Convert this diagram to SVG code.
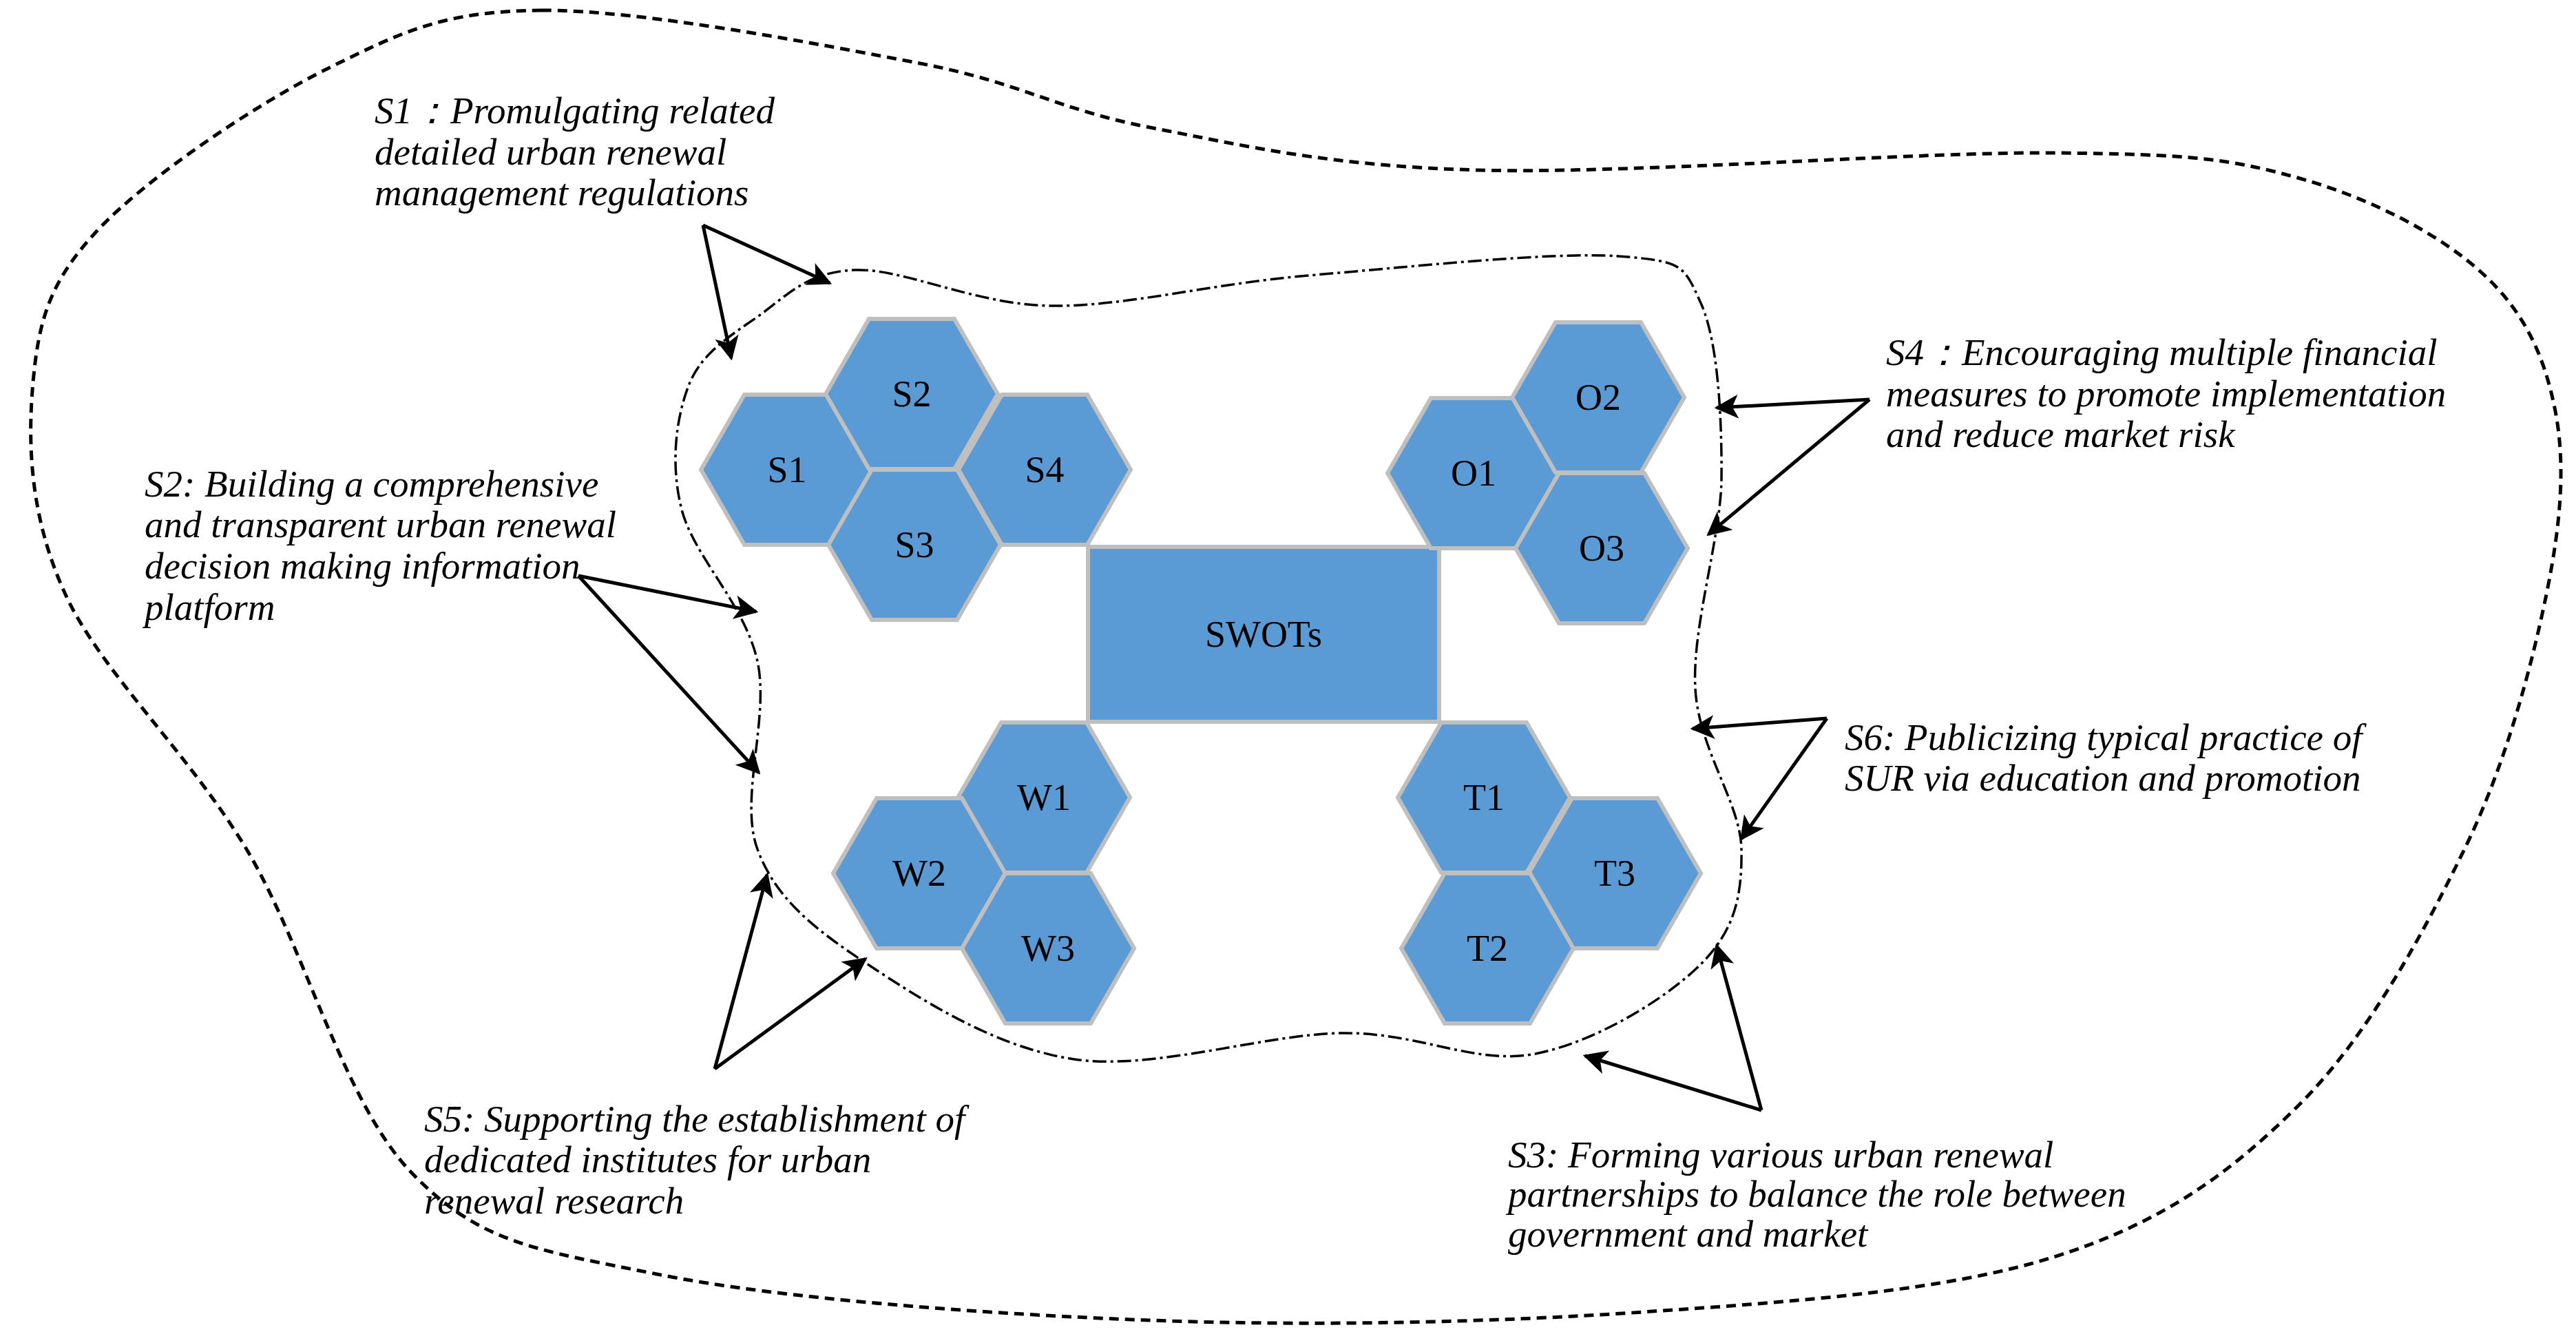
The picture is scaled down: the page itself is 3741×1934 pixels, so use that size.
<svg xmlns="http://www.w3.org/2000/svg" width="3741" height="1934" viewBox="0 0 3741 1934">
<style>
.hex{fill:#5B9BD5;stroke:#BFBFBF;stroke-width:6}
.lbl{font-family:"Liberation Serif",serif;font-size:54px;fill:#000;text-anchor:middle;dominant-baseline:central}
.note{font-family:"Liberation Serif",serif;font-style:italic;font-size:55px;fill:#000}
.arr{stroke:#000;stroke-width:5;fill:none;marker-end:url(#ah)}
</style>
<defs>
<marker id="ah" viewBox="0 0 10 10" refX="9" refY="5" markerWidth="7" markerHeight="7" orient="auto" markerUnits="strokeWidth"><path d="M0,0 L10,5 L0,10 L2.5,5 Z" fill="#000"/></marker>
<polygon id="hx" points="-125,0 -62,-109 62,-109 125,0 62,109 -62,109"/>
</defs>
<rect width="3741" height="1934" fill="#fff"/>
<g id="outer-boundary">
<path d="M787,15 C930,14 1189,64 1336,92 C1483,120 1535,159 1670,185 C1805,211 1928,241 2147,247 C2366,253 2784,220 2983,222 C3182,224 3237,230 3340,259 C3443,288 3541,339 3603,395 C3665,451 3694,514 3710,592 C3726,670 3720,756 3698,863 C3676,970 3639,1110 3579,1233 C3519,1356 3439,1504 3340,1603 C3241,1702 3142,1775 2983,1825 C2824,1875 2605,1890 2386,1905 C2167,1920 1909,1926 1670,1917 C1431,1908 1133,1886 954,1850 C775,1814 696,1805 597,1702 C498,1599 442,1373 358,1233 C274,1093 147,976 95,863 C43,750 40,643 48,555 C56,467 71,409 143,333 C215,257 370,152 477,99 C584,46 644,16 787,15 Z" fill="none" stroke="#000" stroke-width="5" stroke-dasharray="14,9"/>
</g>
<g id="inner-boundary">
<path d="M1241,392 C1312,389 1417,443 1527,444 C1637,445 1757,412 1900,400 C2043,388 2255,365 2350,372 C2445,379 2445,385 2470,440 C2495,495 2501,607 2500,700 C2497,789 2457,911 2462,1000 C2467,1089 2528,1166 2529,1233 C2530,1300 2520,1350 2470,1400 C2420,1450 2317,1513 2230,1530 C2143,1547 2062,1499 1950,1500 C1838,1501 1675,1555 1560,1538 C1445,1521 1337,1451 1260,1400 C1183,1349 1127,1306 1100,1233 C1073,1160 1118,1042 1100,960 C1082,878 1007,807 990,740 C973,673 982,607 1000,560 C1018,513 1060,488 1100,460 C1140,432 1170,395 1241,392 Z" fill="none" stroke="#000" stroke-width="3.5" stroke-dasharray="20,6,4,6"/>
</g>
<g id="SWOTs"><rect x="1580" y="794" width="510" height="254" fill="#5B9BD5" stroke="#BFBFBF" stroke-width="6"/><text class="lbl" x="1835" y="921">SWOTs</text></g>
<g id="S1"><use href="#hx" class="hex" x="1143" y="682"/><text class="lbl" x="1143" y="682">S1</text></g>
<g id="S2"><use href="#hx" class="hex" x="1324" y="572"/><text class="lbl" x="1324" y="572">S2</text></g>
<g id="S4"><use href="#hx" class="hex" x="1517" y="682"/><text class="lbl" x="1517" y="682">S4</text></g>
<g id="S3"><use href="#hx" class="hex" x="1328" y="791"/><text class="lbl" x="1328" y="791">S3</text></g>
<g id="O1"><use href="#hx" class="hex" x="2140" y="687"/><text class="lbl" x="2140" y="687">O1</text></g>
<g id="O2"><use href="#hx" class="hex" x="2321" y="577"/><text class="lbl" x="2321" y="577">O2</text></g>
<g id="O3"><use href="#hx" class="hex" x="2326" y="796"/><text class="lbl" x="2326" y="796">O3</text></g>
<g id="W1"><use href="#hx" class="hex" x="1516" y="1158"/><text class="lbl" x="1516" y="1158">W1</text></g>
<g id="W2"><use href="#hx" class="hex" x="1335" y="1268"/><text class="lbl" x="1335" y="1268">W2</text></g>
<g id="W3"><use href="#hx" class="hex" x="1522" y="1377"/><text class="lbl" x="1522" y="1377">W3</text></g>
<g id="T1"><use href="#hx" class="hex" x="2155" y="1158"/><text class="lbl" x="2155" y="1158">T1</text></g>
<g id="T3"><use href="#hx" class="hex" x="2345" y="1268"/><text class="lbl" x="2345" y="1268">T3</text></g>
<g id="T2"><use href="#hx" class="hex" x="2160" y="1377"/><text class="lbl" x="2160" y="1377">T2</text></g>
<g id="connectors">
<line class="arr" x1="1021" y1="327" x2="1205" y2="411"/>
<line class="arr" x1="1021" y1="327" x2="1062" y2="520"/>
<line class="arr" x1="840" y1="836" x2="1098" y2="888"/>
<line class="arr" x1="840" y1="836" x2="1102" y2="1122"/>
<line class="arr" x1="1038" y1="1552" x2="1114" y2="1270"/>
<line class="arr" x1="1038" y1="1552" x2="1257" y2="1392"/>
<line class="arr" x1="2558" y1="1612" x2="2302" y2="1533"/>
<line class="arr" x1="2558" y1="1612" x2="2493" y2="1373"/>
<line class="arr" x1="2715" y1="580" x2="2493" y2="592"/>
<line class="arr" x1="2715" y1="580" x2="2481" y2="776"/>
<line class="arr" x1="2653" y1="1043" x2="2458" y2="1058"/>
<line class="arr" x1="2653" y1="1043" x2="2529" y2="1218"/>
</g>
<g id="notes">
<text class="note" x="544" y="179">S1：Promulgating related</text>
<text class="note" x="544" y="239">detailed urban renewal</text>
<text class="note" x="544" y="298">management regulations</text>
<text class="note" x="210" y="721">S2: Building a comprehensive</text>
<text class="note" x="210" y="780">and transparent urban renewal</text>
<text class="note" x="210" y="840">decision making information</text>
<text class="note" x="210" y="900">platform</text>
<text class="note" x="2739" y="530">S4：Encouraging multiple financial</text>
<text class="note" x="2739" y="590">measures to promote implementation</text>
<text class="note" x="2739" y="649">and reduce market risk</text>
<text class="note" x="2679" y="1089">S6: Publicizing typical practice of</text>
<text class="note" x="2679" y="1148">SUR via education and promotion</text>
<text class="note" x="616" y="1643">S5: Supporting the establishment of</text>
<text class="note" x="616" y="1702">dedicated institutes for urban</text>
<text class="note" x="616" y="1762">renewal research</text>
<text class="note" x="2190" y="1695">S3: Forming various urban renewal</text>
<text class="note" x="2190" y="1752">partnerships to balance the role between</text>
<text class="note" x="2190" y="1810">government and market</text>
</g>
</svg>
